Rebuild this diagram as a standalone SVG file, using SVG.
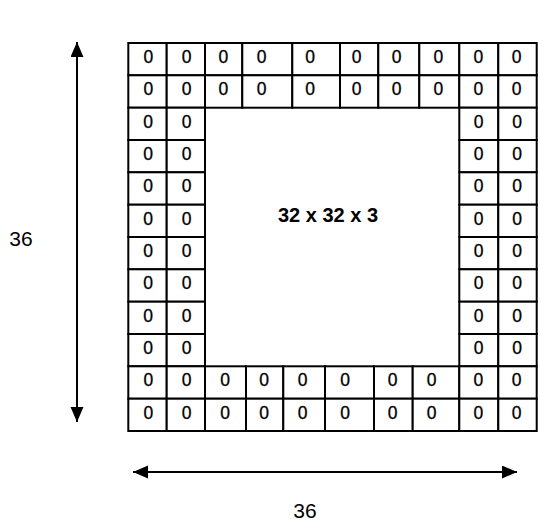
<svg xmlns="http://www.w3.org/2000/svg" width="559" height="528" viewBox="0 0 559 528">
<style>
.c{fill:#fff;stroke:#000;stroke-width:2}
.z{font-family:"Liberation Sans",Arial,sans-serif;font-size:17.5px;text-anchor:middle;fill:#000;stroke:#000;stroke-width:0.3}
.lbl{font-family:"Liberation Sans",Arial,sans-serif;font-size:21px;text-anchor:middle;fill:#000}
.ctr{font-family:"Liberation Sans",Arial,sans-serif;font-size:20px;font-weight:bold;text-anchor:middle;fill:#000}
.ar{stroke:#000;stroke-width:2;fill:none}
</style>
<defs>
<marker id="ah" markerUnits="userSpaceOnUse" markerWidth="16" markerHeight="14" refX="15" refY="6.5" orient="auto-start-reverse">
<path d="M0,0 L15,6.5 L0,13 z" fill="#000"/>
</marker>
</defs>
<rect width="559" height="528" fill="#fff"/>
<g id="padding-top">
<rect class="c" x="128.3" y="43" width="38.4" height="32.3"/><text class="z" x="148.3" y="63">0</text>
<rect class="c" x="166.7" y="43" width="38.3" height="32.3"/><text class="z" x="186.7" y="63">0</text>
<rect class="c" x="205" y="43" width="37.3" height="32.3"/><text class="z" x="223.3" y="63">0</text>
<rect class="c" x="242.3" y="43" width="50" height="32.3"/><text class="z" x="261.7" y="63">0</text>
<rect class="c" x="292.3" y="43" width="47.7" height="32.3"/><text class="z" x="310" y="63">0</text>
<rect class="c" x="340" y="43" width="38.3" height="32.3"/><text class="z" x="356.7" y="63">0</text>
<rect class="c" x="378.3" y="43" width="41" height="32.3"/><text class="z" x="396.7" y="63">0</text>
<rect class="c" x="419.3" y="43" width="40" height="32.3"/><text class="z" x="438.3" y="63">0</text>
<rect class="c" x="459.3" y="43" width="39" height="32.3"/><text class="z" x="478.3" y="63">0</text>
<rect class="c" x="498.3" y="43" width="38.4" height="32.3"/><text class="z" x="516.7" y="63">0</text>
<rect class="c" x="128.3" y="75.3" width="38.4" height="32.4"/><text class="z" x="148.3" y="95.3">0</text>
<rect class="c" x="166.7" y="75.3" width="38.3" height="32.4"/><text class="z" x="186.7" y="95.3">0</text>
<rect class="c" x="205" y="75.3" width="37.3" height="32.4"/><text class="z" x="223.3" y="95.3">0</text>
<rect class="c" x="242.3" y="75.3" width="50" height="32.4"/><text class="z" x="261.7" y="95.3">0</text>
<rect class="c" x="292.3" y="75.3" width="47.7" height="32.4"/><text class="z" x="310" y="95.3">0</text>
<rect class="c" x="340" y="75.3" width="38.3" height="32.4"/><text class="z" x="356.7" y="95.3">0</text>
<rect class="c" x="378.3" y="75.3" width="41" height="32.4"/><text class="z" x="396.7" y="95.3">0</text>
<rect class="c" x="419.3" y="75.3" width="40" height="32.4"/><text class="z" x="438.3" y="95.3">0</text>
<rect class="c" x="459.3" y="75.3" width="39" height="32.4"/><text class="z" x="478.3" y="95.3">0</text>
<rect class="c" x="498.3" y="75.3" width="38.4" height="32.4"/><text class="z" x="516.7" y="95.3">0</text>
</g>
<g id="padding-left">
<rect class="c" x="128.3" y="107.7" width="38.4" height="32.3"/><text class="z" x="148" y="127.7">0</text>
<rect class="c" x="166.7" y="107.7" width="38.3" height="32.3"/><text class="z" x="186.5" y="127.7">0</text>
<rect class="c" x="128.3" y="140" width="38.4" height="32.3"/><text class="z" x="148" y="160">0</text>
<rect class="c" x="166.7" y="140" width="38.3" height="32.3"/><text class="z" x="186.5" y="160">0</text>
<rect class="c" x="128.3" y="172.3" width="38.4" height="32.4"/><text class="z" x="148" y="192.3">0</text>
<rect class="c" x="166.7" y="172.3" width="38.3" height="32.4"/><text class="z" x="186.5" y="192.3">0</text>
<rect class="c" x="128.3" y="204.7" width="38.4" height="32.3"/><text class="z" x="148" y="224.7">0</text>
<rect class="c" x="166.7" y="204.7" width="38.3" height="32.3"/><text class="z" x="186.5" y="224.7">0</text>
<rect class="c" x="128.3" y="237" width="38.4" height="32.3"/><text class="z" x="148" y="257">0</text>
<rect class="c" x="166.7" y="237" width="38.3" height="32.3"/><text class="z" x="186.5" y="257">0</text>
<rect class="c" x="128.3" y="269.3" width="38.4" height="32.4"/><text class="z" x="148" y="289.3">0</text>
<rect class="c" x="166.7" y="269.3" width="38.3" height="32.4"/><text class="z" x="186.5" y="289.3">0</text>
<rect class="c" x="128.3" y="301.7" width="38.4" height="32.3"/><text class="z" x="148" y="321.7">0</text>
<rect class="c" x="166.7" y="301.7" width="38.3" height="32.3"/><text class="z" x="186.5" y="321.7">0</text>
<rect class="c" x="128.3" y="334" width="38.4" height="32.3"/><text class="z" x="148" y="354">0</text>
<rect class="c" x="166.7" y="334" width="38.3" height="32.3"/><text class="z" x="186.5" y="354">0</text>
</g>
<g id="padding-right">
<rect class="c" x="459.3" y="107.7" width="39" height="32.3"/><text class="z" x="478.5" y="127.7">0</text>
<rect class="c" x="498.3" y="107.7" width="38.4" height="32.3"/><text class="z" x="517" y="127.7">0</text>
<rect class="c" x="459.3" y="140" width="39" height="32.3"/><text class="z" x="478.5" y="160">0</text>
<rect class="c" x="498.3" y="140" width="38.4" height="32.3"/><text class="z" x="517" y="160">0</text>
<rect class="c" x="459.3" y="172.3" width="39" height="32.4"/><text class="z" x="478.5" y="192.3">0</text>
<rect class="c" x="498.3" y="172.3" width="38.4" height="32.4"/><text class="z" x="517" y="192.3">0</text>
<rect class="c" x="459.3" y="204.7" width="39" height="32.3"/><text class="z" x="478.5" y="224.7">0</text>
<rect class="c" x="498.3" y="204.7" width="38.4" height="32.3"/><text class="z" x="517" y="224.7">0</text>
<rect class="c" x="459.3" y="237" width="39" height="32.3"/><text class="z" x="478.5" y="257">0</text>
<rect class="c" x="498.3" y="237" width="38.4" height="32.3"/><text class="z" x="517" y="257">0</text>
<rect class="c" x="459.3" y="269.3" width="39" height="32.4"/><text class="z" x="478.5" y="289.3">0</text>
<rect class="c" x="498.3" y="269.3" width="38.4" height="32.4"/><text class="z" x="517" y="289.3">0</text>
<rect class="c" x="459.3" y="301.7" width="39" height="32.3"/><text class="z" x="478.5" y="321.7">0</text>
<rect class="c" x="498.3" y="301.7" width="38.4" height="32.3"/><text class="z" x="517" y="321.7">0</text>
<rect class="c" x="459.3" y="334" width="39" height="32.3"/><text class="z" x="478.5" y="354">0</text>
<rect class="c" x="498.3" y="334" width="38.4" height="32.3"/><text class="z" x="517" y="354">0</text>
</g>
<g id="padding-bottom">
<rect class="c" x="128.3" y="366.3" width="38.4" height="32.4"/><text class="z" x="148.3" y="386.3">0</text>
<rect class="c" x="166.7" y="366.3" width="38.3" height="32.4"/><text class="z" x="186.7" y="386.3">0</text>
<rect class="c" x="205" y="366.3" width="41" height="32.4"/><text class="z" x="225" y="386.3">0</text>
<rect class="c" x="246" y="366.3" width="37.3" height="32.4"/><text class="z" x="264" y="386.3">0</text>
<rect class="c" x="283.3" y="366.3" width="41.7" height="32.4"/><text class="z" x="302.7" y="386.3">0</text>
<rect class="c" x="325" y="366.3" width="49" height="32.4"/><text class="z" x="345" y="386.3">0</text>
<rect class="c" x="374" y="366.3" width="38.7" height="32.4"/><text class="z" x="392.7" y="386.3">0</text>
<rect class="c" x="412.7" y="366.3" width="46.6" height="32.4"/><text class="z" x="431.7" y="386.3">0</text>
<rect class="c" x="459.3" y="366.3" width="39" height="32.4"/><text class="z" x="478.3" y="386.3">0</text>
<rect class="c" x="498.3" y="366.3" width="38.4" height="32.4"/><text class="z" x="516.7" y="386.3">0</text>
<rect class="c" x="128.3" y="398.7" width="38.4" height="32.3"/><text class="z" x="148.3" y="418.7">0</text>
<rect class="c" x="166.7" y="398.7" width="38.3" height="32.3"/><text class="z" x="186.7" y="418.7">0</text>
<rect class="c" x="205" y="398.7" width="41" height="32.3"/><text class="z" x="225" y="418.7">0</text>
<rect class="c" x="246" y="398.7" width="37.3" height="32.3"/><text class="z" x="264" y="418.7">0</text>
<rect class="c" x="283.3" y="398.7" width="41.7" height="32.3"/><text class="z" x="302.7" y="418.7">0</text>
<rect class="c" x="325" y="398.7" width="49" height="32.3"/><text class="z" x="345" y="418.7">0</text>
<rect class="c" x="374" y="398.7" width="38.7" height="32.3"/><text class="z" x="392.7" y="418.7">0</text>
<rect class="c" x="412.7" y="398.7" width="46.6" height="32.3"/><text class="z" x="431.7" y="418.7">0</text>
<rect class="c" x="459.3" y="398.7" width="39" height="32.3"/><text class="z" x="478.3" y="418.7">0</text>
<rect class="c" x="498.3" y="398.7" width="38.4" height="32.3"/><text class="z" x="516.7" y="418.7">0</text>
</g>
<g id="image-center">
<text class="ctr" x="328" y="222">32 x 32 x 3</text>
</g>
<g id="connectors">
<line class="ar" x1="77" y1="42" x2="77" y2="422" marker-start="url(#ah)" marker-end="url(#ah)"/>
<line class="ar" x1="133" y1="472" x2="517" y2="472" marker-start="url(#ah)" marker-end="url(#ah)"/>
</g>
<g id="labels">
<text class="lbl" x="21" y="246">36</text>
<text class="lbl" x="305" y="518">36</text>
</g>
</svg>
